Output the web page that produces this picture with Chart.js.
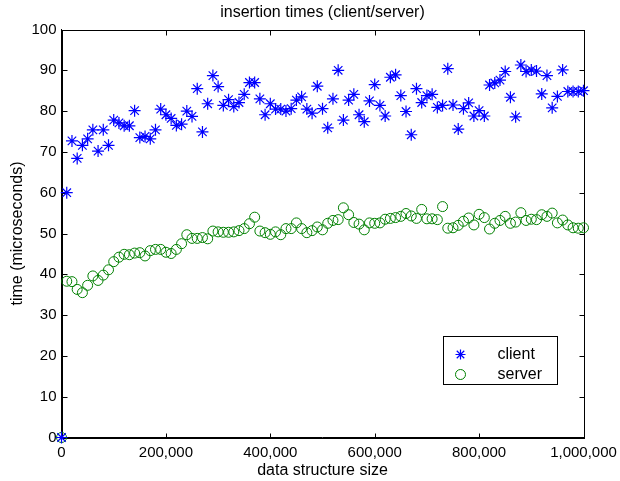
<!DOCTYPE html>
<html>
<head>
<meta charset="utf-8">
<script src="https://cdn.jsdelivr.net/npm/chart.js@4/dist/chart.umd.min.js"></script>
<style>
  html, body { margin: 0; padding: 0; background: #fff; }
  #wrap { width: 620px; height: 481px; }
</style>
</head>
<body>
<div id="wrap"><canvas id="chart" width="620" height="481"></canvas></div>
<script>
// data structure sizes (x)
var sizes = [
  0, 10000, 20000, 30000, 40000, 50000, 60000, 70000, 80000, 90000,
  100000, 110000, 120000, 130000, 140000, 150000, 160000, 170000, 180000, 190000,
  200000, 210000, 220000, 230000, 240000, 250000, 260000, 270000, 280000, 290000,
  300000, 310000, 320000, 330000, 340000, 350000, 360000, 370000, 380000, 390000,
  400000, 410000, 420000, 430000, 440000, 450000, 460000, 470000, 480000, 490000,
  500000, 510000, 520000, 530000, 540000, 550000, 560000, 570000, 580000, 590000,
  600000, 610000, 620000, 630000, 640000, 650000, 660000, 670000, 680000, 690000,
  700000, 710000, 720000, 730000, 740000, 750000, 760000, 770000, 780000, 790000,
  800000, 810000, 820000, 830000, 840000, 850000, 860000, 870000, 880000, 890000,
  900000, 910000, 920000, 930000, 940000, 950000, 960000, 970000, 980000, 990000,
  1000000
];

// insertion time, microseconds
var clientTimes = [
  0, 60.0, 72.7, 68.4, 71.6, 73.2, 75.4, 70.2, 75.4, 71.6,
  77.8, 77.1, 76.4, 76.4, 80.1, 73.5, 73.8, 73.2, 75.4, 80.5,
  79.1, 78.2, 76.5, 76.8, 80.0, 78.7, 85.5, 74.9, 81.8, 88.7,
  86.0, 81.4, 82.8, 81.1, 82.1, 84.1, 87.0, 87.0, 83.0, 79.1,
  81.8, 80.5, 80.5, 80.0, 80.6, 82.7, 83.5, 80.5, 79.5, 86.1,
  80.6, 75.9, 83.0, 90.0, 77.8, 82.7, 84.1, 79.1, 77.4, 82.5,
  86.5, 81.4, 78.8, 88.3, 88.9, 83.8, 79.9, 74.2, 85.5, 82.1,
  83.8, 84.1, 80.9, 81.4, 90.4, 81.5, 75.6, 80.6, 82.0, 78.8,
  80.1, 78.8, 86.4, 86.9, 87.6, 89.7, 83.4, 78.6, 91.3, 89.7,
  90.1, 89.8, 84.2, 88.7, 80.8, 83.6, 90.1, 84.8, 84.8, 84.8,
  85.0
];

var serverTimes = [
  0, 38.3, 38.2, 36.3, 35.5, 37.3, 39.6, 38.5, 39.8, 41.1,
  43.1, 44.2, 44.9, 44.8, 45.2, 45.3, 44.5, 45.8, 46.1, 46.1,
  45.4, 45.1, 46.1, 47.5, 49.7, 48.8, 48.8, 49.0, 48.7, 50.6,
  50.4, 50.3, 50.3, 50.4, 50.7, 51.2, 52.4, 54.0, 50.6, 50.2,
  49.8, 50.4, 49.7, 51.2, 51.2, 52.6, 51.2, 50.2, 50.7, 51.6,
  50.9, 52.5, 53.2, 53.4, 56.3, 54.6, 52.7, 52.3, 50.9, 52.6,
  52.5, 52.6, 53.5, 53.7, 53.9, 54.2, 54.9, 54.3, 53.7, 55.9,
  53.6, 53.6, 53.4, 56.6, 51.3, 51.4, 52.0, 53.0, 53.8, 52.1,
  54.7, 53.9, 51.1, 52.5, 53.2, 54.2, 52.5, 52.8, 55.1, 53.2,
  53.5, 53.4, 54.6, 54.2, 55.0, 52.6, 53.3, 52.1, 51.4, 51.3,
  51.4
];

var seriesNames = ['client', 'server'];
var titleText = 'insertion times (client/server)';
var xTitle = 'data structure size';
var yTitle = 'time (microseconds)';

var FONT = '"Liberation Sans", Arial, Helvetica, sans-serif';
var BLUE = '#0000ff';
var GREEN = '#008000';

function toPoints(ys) {
    var pts = [];
    for (var i = 0; i < sizes.length; i++) {
        pts.push({x: sizes[i], y: ys[i]});
    }
    return pts;
}

// box round the plot with matlab style inward ticks, plus the legend box
var framePlugin = {
    id: 'frame',
    beforeDatasetsDraw: function(chart) {
        var ctx = chart.ctx, a = chart.chartArea;
        var xs = chart.scales.x, ys = chart.scales.y;
        var len = 5;
        var L = Math.round(a.left) + 0.5, R = Math.round(a.right) + 0.5;
        var T = Math.round(a.top) + 0.5, B = Math.round(a.bottom) + 0.5;
        ctx.save();
        ctx.strokeStyle = '#000';
        ctx.lineWidth = 1;
        ctx.beginPath();
        xs.ticks.forEach(function(t) {
            var px = Math.round(xs.getPixelForValue(t.value)) + 0.5;
            ctx.moveTo(px, B); ctx.lineTo(px, B - len);
            ctx.moveTo(px, T); ctx.lineTo(px, T + len);
        });
        ys.ticks.forEach(function(t) {
            var py = Math.round(ys.getPixelForValue(t.value)) + 0.5;
            ctx.moveTo(L, py); ctx.lineTo(L + len, py);
            ctx.moveTo(R, py); ctx.lineTo(R - len, py);
        });
        ctx.stroke();
        ctx.strokeRect(L, T, R - L, B - T);
        ctx.restore();
    },
    afterDraw: function(chart) {
        var ctx = chart.ctx, a = chart.chartArea;
        var bx = Math.round(a.right - 141) + 0.5;
        var by = Math.round(a.bottom - 102) + 0.5;
        var bw = 114, bh = 48;
        ctx.save();
        ctx.fillStyle = '#fff';
        ctx.fillRect(bx, by, bw, bh);
        ctx.strokeStyle = '#000';
        ctx.lineWidth = 1;
        ctx.strokeRect(bx, by, bw, bh);

        // client marker
        var mx = bx + 17, my = by + 18, r = 5;
        ctx.strokeStyle = BLUE;
        ctx.lineWidth = 1.2;
        ctx.beginPath();
        ctx.moveTo(mx - r, my); ctx.lineTo(mx + r, my);
        ctx.moveTo(mx, my - r); ctx.lineTo(mx, my + r);
        var d = r * 0.75;
        ctx.moveTo(mx - d, my - d); ctx.lineTo(mx + d, my + d);
        ctx.moveTo(mx - d, my + d); ctx.lineTo(mx + d, my - d);
        ctx.stroke();

        // server marker
        ctx.strokeStyle = GREEN;
        ctx.lineWidth = 1;
        ctx.beginPath();
        ctx.arc(mx, by + 38, 5, 0, Math.PI * 2);
        ctx.stroke();

        ctx.fillStyle = '#000';
        ctx.font = '16px ' + FONT;
        ctx.textBaseline = 'middle';
        ctx.textAlign = 'left';
        ctx.fillText(seriesNames[0], bx + 54, by + 18);
        ctx.fillText(seriesNames[1], bx + 54, by + 38);
        ctx.restore();
    }
};

var ctx = document.getElementById('chart');
var chart = new Chart(ctx, {
    type: 'scatter',
    data: {
        datasets: [
            {
                label: seriesNames[0],
                data: toPoints(clientTimes),
                pointStyle: 'star',
                pointRadius: 6,
                borderColor: BLUE,
                backgroundColor: BLUE,
                pointBorderWidth: 1.2,
                clip: false
            },
            {
                label: seriesNames[1],
                data: toPoints(serverTimes),
                pointStyle: 'circle',
                pointRadius: 5,
                borderColor: GREEN,
                backgroundColor: 'rgba(0,0,0,0)',
                pointBorderWidth: 1,
                clip: false
            }
        ]
    },
    options: {
        responsive: false,
        animation: false,
        events: [],
        layout: { padding: { left: 6, right: 36.5, top: 0, bottom: 2.5 } },
        plugins: {
            legend: { display: false },
            tooltip: { enabled: false },
            title: {
                display: true,
                fullSize: false,
                text: titleText,
                color: '#000',
                font: { family: FONT, size: 16, weight: 'normal', lineHeight: 1.2 },
                padding: { top: 3, bottom: 7.3 }
            }
        },
        scales: {
            x: {
                type: 'linear',
                min: 0,
                max: 1000000,
                // let the layout padding decide the right edge
                afterFit: function(scale) { scale.paddingRight = 0; },
                grid: { display: true, drawOnChartArea: false, drawTicks: false },
                border: { display: true, color: '#000', width: 1 },
                ticks: {
                    stepSize: 200000,
                    color: '#000',
                    padding: 8,
                    maxRotation: 0,
                    font: { family: FONT, size: 15, lineHeight: 1.0 },
                    callback: function(v) { return Number(v).toLocaleString('en-US'); }
                },
                title: {
                    display: true,
                    text: xTitle,
                    color: '#000',
                    font: { family: FONT, size: 16, lineHeight: 1.0 },
                    padding: { top: -6, bottom: 0 }
                }
            },
            y: {
                min: 0,
                max: 100,
                grid: { display: true, drawOnChartArea: false, drawTicks: false },
                border: { display: true, color: '#000', width: 1 },
                ticks: {
                    stepSize: 10,
                    color: '#000',
                    padding: 5,
                    font: { family: FONT, size: 15, lineHeight: 1.0 }
                },
                title: {
                    display: true,
                    text: yTitle,
                    color: '#000',
                    font: { family: FONT, size: 16, lineHeight: 1.0 },
                    padding: { top: 4, bottom: 0.5 }
                }
            }
        }
    },
    plugins: [framePlugin]
});
</script>
</body>
</html>
